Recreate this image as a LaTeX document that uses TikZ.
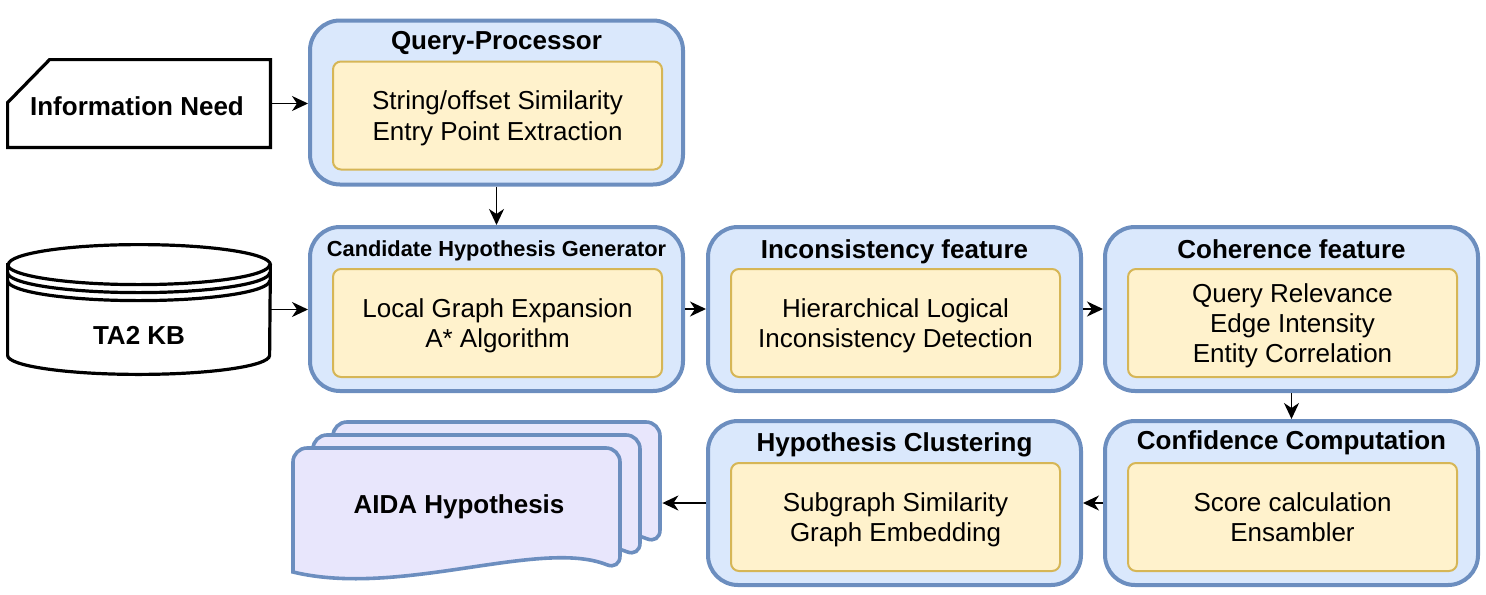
\documentclass[tikz,border=0pt]{standalone}
\usepackage{fontspec}
\setmainfont{Liberation Sans}
\usepackage{tikz}
\usetikzlibrary{calc}
\usetikzlibrary{arrows.meta}
\usetikzlibrary{positioning}
\definecolor{stagefill}{HTML}{DAE8FC}
\definecolor{stageline}{HTML}{6C8EBF}
\definecolor{detailfill}{HTML}{FFF2CC}
\definecolor{detailline}{HTML}{D6B656}
\definecolor{docfill}{RGB}{232, 230, 252}

\tikzset{
  stage/.style={draw=stageline, fill=stagefill, line width=2pt, rounded corners=15pt,
                minimum width=186.5pt, minimum height=82pt, inner sep=0pt},
  detail/.style={draw=detailline, fill=detailfill, line width=1pt, rounded corners=4pt,
                 minimum width=164.5pt, minimum height=54pt, inner sep=0pt, align=center,
                 text depth=0pt, font=\fontsize{13}{15.2}\selectfont},
  stagetitle/.style={anchor=base, inner sep=0pt, font=\bfseries\fontsize{13}{15}\selectfont},
  maintext/.style={inner sep=0pt, text depth=0pt, font=\bfseries\fontsize{13}{15}\selectfont},
  flow/.style={-{Stealth[length=8pt, width=7.5pt, inset=2.5pt]}, line width=0.9pt},
  doc/.style={draw=stageline, fill=docfill, line width=1.8pt},
  outline/.style={draw=black, fill=white, line width=1.6pt}
}

\begin{document}
\begin{tikzpicture}[x=0.5pt, y=-0.5pt]
            \useasboundingbox (0,0) rectangle (1486,594);
            % stages
            \node[stage] (qp)   at ( 496.5, 102.5) {};
            \node[stage] (chg)  at ( 496.5, 309.0) {};
            \node[stage] (inc)  at ( 894.5, 309.0) {};
            \node[stage] (coh)  at (1291.5, 309.0) {};
            \node[stage] (clu)  at ( 894.5, 503.0) {};
            \node[stage] (conf) at (1291.5, 503.0) {};
            \node[detail] (qpd)   at ($(qp)+(1,13)$)   {String/offset Similarity\\Entry Point Extraction};
            \node[detail] (chgd)  at ($(chg)+(1,14)$)  {Local Graph Expansion\\A* Algorithm};
            \node[detail] (incd)  at ($(inc)+(1,14)$)  {Hierarchical Logical\\Inconsistency Detection};
            \node[detail] (cohd)  at ($(coh)+(1,14)$)  {Query Relevance\\Edge Intensity\\Entity Correlation};
            \node[detail] (clud)  at ($(clu)+(1,14)$)  {Subgraph Similarity\\Graph Embedding};
            \node[detail] (confd) at ($(conf)+(1,14)$) {Score calculation\\Ensambler};
            \node[stagetitle] (qpt)   at ($(qp.north)+(0,31)$)   {Query-Processor};
            \node[stagetitle, font=\bfseries\fontsize{10.9}{13}\selectfont]
                              (chgt)  at ($(chg.north)+(0,31)$)  {Candidate Hypothesis Generator};
            \node[stagetitle] (inct)  at ($(inc.north)+(0,33)$)  {Inconsistency feature};
            \node[stagetitle] (coht)  at ($(coh.north)+(0,33)$)  {Coherence feature};
            \node[stagetitle] (clut)  at ($(clu.north)+(0,32)$)  {Hypothesis Clustering};
            \node[stagetitle] (conft) at ($(conf.north)+(0,30)$) {Confidence Computation};
            % information need
            \node[maintext, minimum width=131pt, minimum height=43.5pt] (need) at (139,103.5) {};
            \draw[outline] (need.south west) -- ($(need.north west)+(0,43)$) -- ($(need.north west)+(42,0)$)
                 -- (need.north east) -- (need.south east) -- cycle;
            \node[maintext] (needtext) at ($(need)+(-2,3)$) {Information Need};
            % knowledge base
            \node[maintext, minimum width=131pt, minimum height=64.5pt] (kb) at (139,309.5) {};
            \draw[outline] ($(kb.north west)+(0,20)$) -- ($(kb.south west)+(0,-19)$)
                 arc[start angle=180, end angle=360, x radius=65.5pt, y radius=9.5pt]
                 -- ($(kb.north east)+(0,20)$)
                 arc[start angle=0, end angle=180, x radius=65.5pt, y radius=10pt] -- cycle;
            \foreach \ring in {20,28,36}
                \draw[line width=1.6pt] ($(kb.north west)+(0,\ring)$)
                     arc[start angle=180, end angle=360, x radius=65.5pt, y radius=10pt];
            \node[maintext] (kbtext) at ($(kb)+(0,26)$) {TA2 KB};
            % hypothesis documents
            \foreach \dx/\dy in {40/-26, 20/-13, 0/0}
                \draw[doc, shift={(\dx,\dy)}, rounded corners=7pt] (293,572) -- (293,448) -- (620,448) -- (620,570)
                     [sharp corners] .. controls (540,538) and (400,598) .. (293,572) -- cycle;
            \node[minimum width=184.5pt, minimum height=79pt, inner sep=0pt] (aida) at (477.5,501) {};
            \node[maintext] (aidatext) at (459,504) {AIDA Hypothesis};
            % connectors
            \draw[flow] (need.east)  -- (need.east -| qp.west);
            \draw[flow] (qp.south)   -- (chg.north);
            \draw[flow] (kb.east)    -- (kb.east -| chg.west);
            \draw[flow] (chg.east)   -- (inc.west);
            \draw[flow] (inc.east)   -- (coh.west);
            \draw[flow] (coh.south)  -- (conf.north);
            \draw[flow] (conf.west)  -- (clu.east);
            \draw[flow] (clu.west)   -- (clu.west -| aida.east);
\end{tikzpicture}
\end{document}
